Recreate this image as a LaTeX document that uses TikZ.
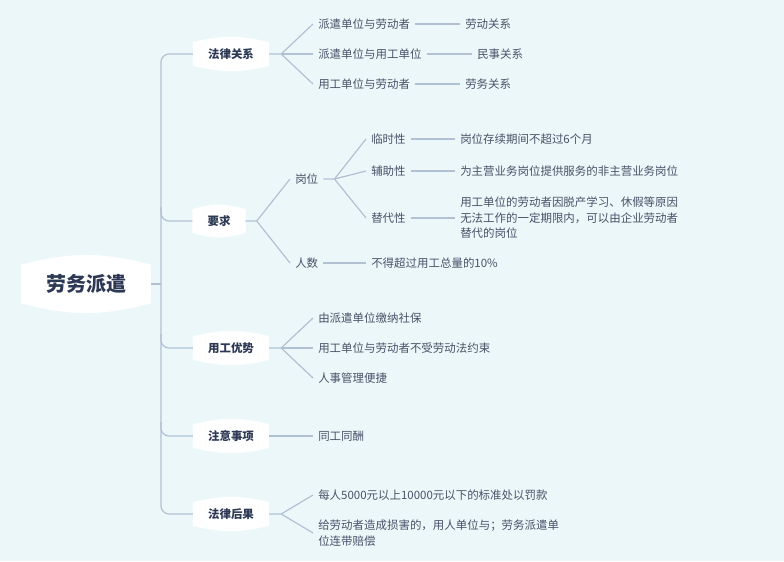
\documentclass[tikz,border=0pt]{standalone}
\usepackage{fontspec}
\setmainfont{Noto Sans CJK SC}
\usetikzlibrary{backgrounds,calc}
\definecolor{bg}{RGB}{236,247,250}
\definecolor{ln}{RGB}{178,192,212}
\definecolor{lf}{RGB}{72,82,104}
\definecolor{br}{RGB}{44,56,84}
\tikzset{
  leaf/.style={anchor=west, inner xsep=3.75pt, inner ysep=1pt, text=lf,
    font=\fontsize{8.6pt}{11.6pt}\selectfont, align=left},
  branch/.style={inner xsep=11.25pt, inner ysep=0pt, minimum height=17.25pt, text=br,
    font=\bfseries\fontsize{8.6pt}{10pt}\selectfont},
  rootn/.style={inner xsep=18.4pt, inner ysep=0pt, minimum height=28.5pt, text=br,
    font=\bfseries\fontsize{15pt}{18pt}\selectfont},
  conn/.style={draw=ln, line width=0.9pt}
}
\newcommand\bubbleshape[2]{\fill[white] (#1.north west) to[bend left=#2] (#1.north east) -- (#1.south east) to[bend left=#2] (#1.south west) -- cycle;}
\begin{document}
\begin{tikzpicture}[x=0.75pt,y=-0.75pt]
\useasboundingbox (0,0) rectangle (784,561);
% root and branches
\node[rootn] (root) at (86,284) {劳务派遣};
\node[branch] (b1) at (231,54) {法律关系};
\node[branch] (b2) at (219,221) {要求};
\node[branch] (b3) at (231,348) {用工优势};
\node[branch] (b4) at (231,436) {注意事项};
\node[branch] (b5) at (231,514) {法律后果};
\begin{scope}[on background layer]
  \fill[bg] (0,0) rectangle (784,561);
  \bubbleshape{root}{15}
  \bubbleshape{b1}{14}
  \bubbleshape{b2}{17}
  \bubbleshape{b3}{14}
  \bubbleshape{b4}{14}
  \bubbleshape{b5}{14}
\end{scope}
% trunk
\coordinate (tk) at (161,284);
\draw[conn] (root.east) -- (tk);
\draw[conn, rounded corners=6pt] (b1.west) -| (tk) |- (b5.west);
\draw[conn, rounded corners=6pt] ($(b2.west -| tk)+(0,-14)$) |- (b2.west);
\draw[conn, rounded corners=6pt] ($(b3.west -| tk)+(0,-14)$) |- (b3.west);
\draw[conn, rounded corners=6pt] ($(b4.west -| tk)+(0,-14)$) |- (b4.west);
% 法律关系
\node[leaf] (c11) at (313,24) {派遣单位与劳动者};
\node[leaf] (c12) at (313,54) {派遣单位与用工单位};
\node[leaf] (c13) at (313,84) {用工单位与劳动者};
\node[leaf] (d11) at (460,24) {劳动关系};
\node[leaf] (d12) at (472,54) {民事关系};
\node[leaf] (d13) at (460,84) {劳务关系};
\coordinate (f1) at ($(b1.east)+(12,0)$);
\draw[conn] (b1.east) -- (f1) -- (c11.west);
\draw[conn] (f1) -- (c12.west);
\draw[conn] (f1) -- (c13.west);
\draw[conn] (c11.east) -- (d11.west);
\draw[conn] (c12.east) -- (d12.west);
\draw[conn] (c13.east) -- (d13.west);
% 要求
\node[leaf] (g1) at (290,179) {岗位};
\node[leaf] (g2) at (290,263) {人数};
\coordinate (f2) at ($(b2.east)+(11,0)$);
\draw[conn] (b2.east) -- (f2) -- (g1.west);
\draw[conn] (f2) -- (g2.west);
\node[leaf] (h1) at (366,139) {临时性};
\node[leaf] (h2) at (366,171) {辅助性};
\node[leaf] (h3) at (366,218) {替代性};
\coordinate (f3) at ($(g1.east)+(11,0)$);
\draw[conn] (g1.east) -- (f3) -- (h1.west);
\draw[conn] (f3) -- (h2.west);
\draw[conn] (f3) -- (h3.west);
\node[leaf] (i1) at (455,139) {岗位存续期间不超过6个月};
\node[leaf] (i2) at (455,171) {为主营业务岗位提供服务的非主营业务岗位};
\node[leaf] (i3) at (455,218) {用工单位的劳动者因脱产学习、休假等原因\\无法工作的一定期限内，可以由企业劳动者\\替代的岗位};
\draw[conn] (h1.east) -- (i1.west);
\draw[conn] (h2.east) -- (i2.west);
\draw[conn] (h3.east) -- (i3.west);
\node[leaf] (j1) at (366,263) {不得超过用工总量的10\%};
\draw[conn] (g2.east) -- (j1.west);
% 用工优势
\node[leaf] (k1) at (313,318) {由派遣单位缴纳社保};
\node[leaf] (k2) at (313,348) {用工单位与劳动者不受劳动法约束};
\node[leaf] (k3) at (313,378) {人事管理便捷};
\coordinate (f4) at ($(b3.east)+(12,0)$);
\draw[conn] (b3.east) -- (f4) -- (k1.west);
\draw[conn] (f4) -- (k2.west);
\draw[conn] (f4) -- (k3.west);
% 注意事项
\node[leaf] (m1) at (313,436) {同工同酬};
\draw[conn] (b4.east) -- (m1.west);
% 法律后果
\node[leaf] (n1) at (313,495) {每人5000元以上10000元以下的标准处以罚款};
\node[leaf] (n2) at (313,533) {给劳动者造成损害的，用人单位与；劳务派遣单\\位连带赔偿};
\coordinate (f5) at ($(b5.east)+(12,0)$);
\draw[conn] (b5.east) -- (f5) -- (n1.west);
\draw[conn] (f5) -- (n2.west);
\end{tikzpicture}
\end{document}
